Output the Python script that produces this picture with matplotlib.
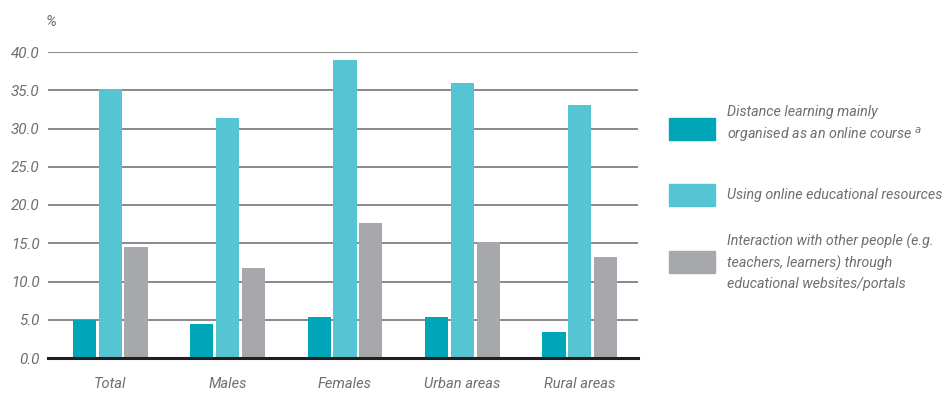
import numpy as np
import matplotlib
matplotlib.use("Agg")
import matplotlib.pyplot as plt
from matplotlib.patches import Rectangle

# Data
groups = ["Total", "Males", "Females", "Urban areas", "Rural areas"]
online_course = [5.0, 4.5, 5.4, 5.4, 3.4]
online_resources = [35.2, 31.4, 39.0, 36.0, 33.1]
interaction = [14.5, 11.7, 17.6, 15.2, 13.2]
series_labels = [
    "Distance learning mainly\norganised as an online course $^{a}$",
    "Using online educational resources",
    "Interaction with other people (e.g.\nteachers, learners) through\neducational websites/portals",
]
yticks = [0, 5, 10, 15, 20, 25, 30, 35, 40]

colours = ["#00a6b8", "#55c5d3", "#a7a8ac"]
txt = "#6d6e71"
plt.rcParams["font.family"] = ["Roboto", "DejaVu Sans"]

fig = plt.figure(figsize=(9.46, 3.94), dpi=100)
ax = fig.add_axes([48 / 946, 1 - 358 / 394, 590 / 946, (358 - 52) / 394])

x = np.arange(len(groups))
w = 0.196
pitch = 0.221
for k, vals in enumerate([online_course, online_resources, interaction]):
    ax.bar(x + (k - 1) * pitch, vals, width=w, color=colours[k], zorder=3)

ax.set_xlim(-0.528, 4.494)
ax.set_ylim(0, 40)
ax.set_yticks(yticks)
ax.set_yticklabels(["%.1f" % v for v in yticks], fontstyle="italic",
                   color=txt, fontsize=11)
ax.set_xticks(x)
ax.set_xticklabels(groups, fontstyle="italic", color=txt, fontsize=10.5)
ax.tick_params(length=0, pad=6)
ax.tick_params(axis="x", pad=14)
for v in yticks[1:]:
    ax.axhline(v, color="#808080", lw=1.3, zorder=1)
for s in ["top", "right", "left"]:
    ax.spines[s].set_visible(False)
ax.spines["bottom"].set_color("#231f20")
ax.spines["bottom"].set_linewidth(2.2)
ax.spines["bottom"].set_zorder(4)

fig.text(46 / 946, 1 - 22 / 394, "%", fontstyle="italic", color=txt,
         fontsize=11, va="center", ha="left")

# Legend
patch_y = [129, 195, 262]
text_y = [125, 195, 262]
for k in range(3):
    yc = 1 - patch_y[k] / 394
    fig.patches.append(Rectangle((669 / 946, yc - 11 / 394), 46 / 946, 22 / 394,
                                 transform=fig.transFigure, color=colours[k]))
    fig.text(727 / 946, 1 - text_y[k] / 394, series_labels[k], fontstyle="italic",
             color=txt, fontsize=10.3, va="center", ha="left", linespacing=1.55)

fig.savefig("out.png", dpi=100, facecolor="white")
